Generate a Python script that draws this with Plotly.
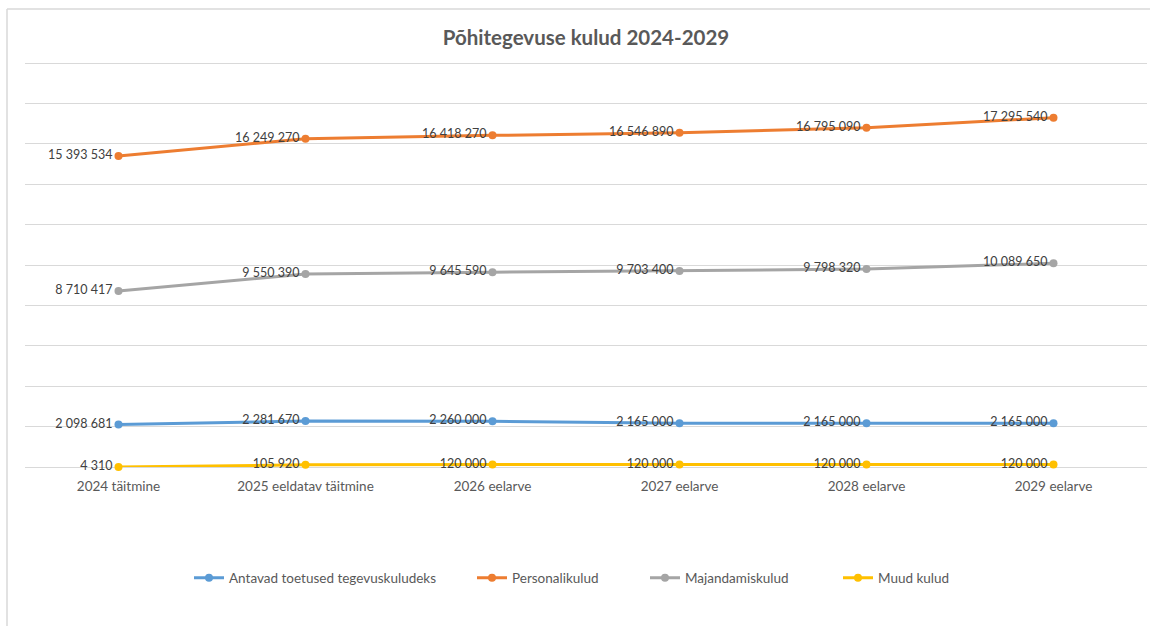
import plotly.graph_objects as go

categories = ["2024 täitmine", "2025 eeldatav täitmine", "2026 eelarve",
              "2027 eelarve", "2028 eelarve", "2029 eelarve"]
antavad = [2098681, 2281670, 2260000, 2165000, 2165000, 2165000]
personal = [15393534, 16249270, 16418270, 16546890, 16795090, 17295540]
majandamis = [8710417, 9550390, 9645590, 9703400, 9798320, 10089650]
muud = [4310, 105920, 120000, 120000, 120000, 120000]

series = [
    ("Antavad toetused tegevuskuludeks", antavad, "#5B9BD5"),
    ("Personalikulud", personal, "#ED7D31"),
    ("Majandamiskulud", majandamis, "#A5A5A5"),
    ("Muud kulud", muud, "#FFC000"),
]

FONT = "Lato, Carlito, 'Open Sans', sans-serif"

W, H = 1150, 626
L, R, T, B = 25, 3, 61, 159
pw, ph = W - L - R, H - T - B


def px_x(p):
    return (p - L) / pw


def px_y(p):
    return (H - B - p) / ph


legend_text_x = [229, 512, 685, 878]
legend_names = ["legend", "legend2", "legend3", "legend4"]

fig = go.Figure()
for (name, vals, col), lg in zip(series, legend_names):
    fig.add_trace(go.Scatter(
        x=categories, y=vals, name=name, mode="lines+markers+text",
        line=dict(color=col, width=3), marker=dict(color=col, size=8),
        texttemplate="%{y:,.0f}", textposition="middle left",
        textfont=dict(family=FONT, size=12.5, color="#404040"),
        cliponaxis=False, legend=lg,
    ))

legend_layout = {}
for lg, tx in zip(legend_names, legend_text_x):
    legend_layout[lg] = dict(
        orientation="h", x=px_x(tx - 40), xanchor="left",
        y=px_y(578), yanchor="middle", bgcolor="rgba(0,0,0,0)",
        font=dict(family=FONT, size=13.5, color="#595959"), itemwidth=30,
    )

fig.update_layout(
    width=W, height=H,
    margin=dict(l=L, r=R, t=T, b=B),
    paper_bgcolor="white", plot_bgcolor="white",
    separators=", ",
    font=dict(family=FONT, size=12, color="#595959"),
    title=dict(text="<b>Põhitegevuse kulud 2024-2029</b>", x=0.5, xref="paper",
               xanchor="center", y=1 - 38 / H, yanchor="middle",
               font=dict(family=FONT, size=20.5, color="#595959")),
    xaxis=dict(range=[-0.5, 5.5], showgrid=False, showline=False, ticks="outside",
               ticklen=7, tickcolor="rgba(0,0,0,0)",
               tickfont=dict(size=13.5, color="#595959"), fixedrange=True),
    yaxis=dict(range=[0, 20100000], dtick=2000000, showticklabels=False,
               gridcolor="#D9D9D9", gridwidth=1, zeroline=True,
               zerolinecolor="#D9D9D9", zerolinewidth=1, showline=False),
    showlegend=True,
    shapes=[
        dict(type="line", xref="paper", yref="paper", x0=px_x(7), x1=px_x(7),
             y0=px_y(9), y1=px_y(H + 5), line=dict(color="#D9D9D9", width=1.5)),
        dict(type="line", xref="paper", yref="paper", x0=px_x(7), x1=px_x(W + 5),
             y0=px_y(9), y1=px_y(9), line=dict(color="#D9D9D9", width=1.5)),
    ],
    **legend_layout,
)

fig.write_html("out.html", config={"displayModeBar": False},
               post_script="document.body.style.margin='0px';")
